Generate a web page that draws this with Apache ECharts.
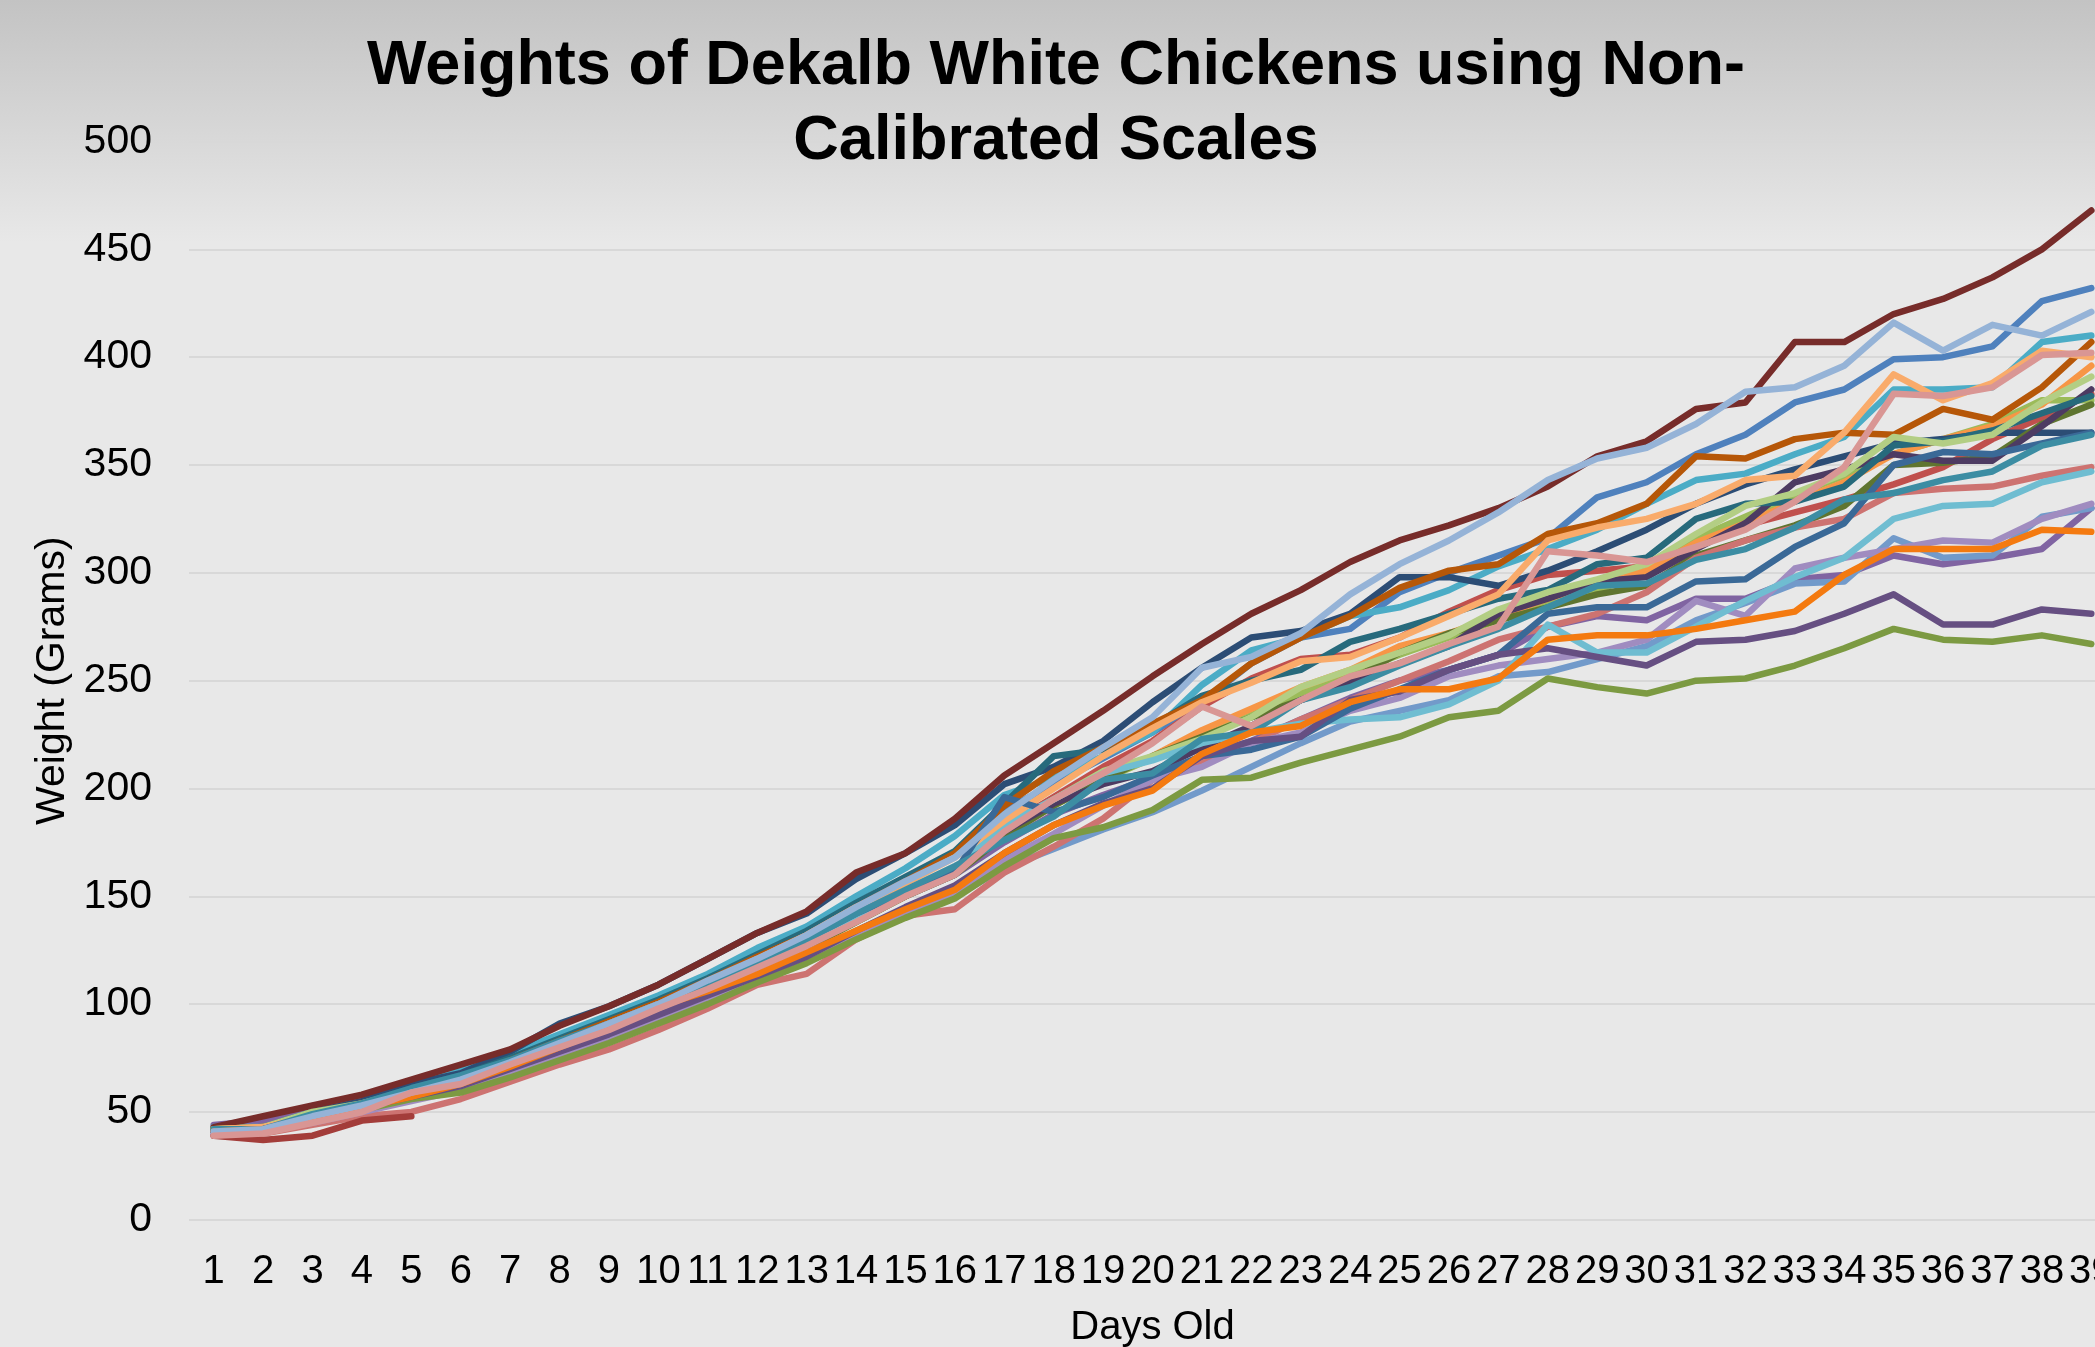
<!DOCTYPE html>
<html>
<head>
<meta charset="utf-8">
<title>Weights of Dekalb White Chickens</title>
<script src="https://cdn.jsdelivr.net/npm/echarts@6/dist/echarts.min.js"></script>
<style>
  * { margin: 0; padding: 0; }
  html, body { width: 2095px; height: 1347px; overflow: hidden; background: #e8e8e8; }
  #chart { width: 2095px; height: 1347px; }
</style>
</head>
<body>
<div id="chart"></div>
<script>
// days old (x categories)
var days = ['1','2','3','4','5','6','7','8','9','10','11','12','13','14','15','16','17','18','19','20',
            '21','22','23','24','25','26','27','28','29','30','31','32','33','34','35','36','37','38','39'];

// weights in grams, one array per chicken
var maroon       = [43,48,53,58,65,72,79,90,99,109,121,133,143,161,170,186,206,221,236,252,267,281,292,305,315,322,330,340,354,361,376,379,407,407,420,427,437,450,468];
var blue         = [42,43,49,54,61,67,75,84,92,101,111,122,132,146,157,170,190,202,214,226,240,258,270,274,291,300,308,316,335,342,355,364,379,385,399,400,405,426,432];
var lightBlue    = [41,42,48,53,59,65,73,82,91,100,111,121,132,145,157,168,188,204,219,233,256,261,272,290,304,315,328,343,353,358,369,384,386,396,416,403,415,410,421];
var aqua         = [43,43,50,55,62,70,77,86,95,104,114,126,136,150,163,178,197,205,215,226,248,264,270,280,284,292,303,311,320,332,343,346,355,363,385,385,386,407,410];
var darkOrange   = [42,43,49,54,60,66,74,83,92,101,111,122,132,145,157,170,192,208,219,230,241,258,270,280,293,301,304,318,323,332,354,353,362,365,364,376,371,386,407];
var pink         = [39,40,45,50,59,63,72,80,88,98,107,117,127,138,150,160,180,195,207,221,238,229,241,252,258,267,275,310,308,305,312,320,333,349,383,382,386,401,402];
var lightOrange  = [42,43,48,53,59,65,73,82,91,100,110,121,132,145,156,168,185,200,215,228,240,249,259,261,270,280,290,315,321,325,332,343,345,365,392,380,388,403,400];
var orange       = [41,42,47,52,58,63,72,80,88,97,107,117,127,139,150,162,180,193,205,215,227,237,247,255,266,272,280,288,295,301,314,323,333,342,355,362,368,378,396];
var lightGreen   = [42,43,50,54,60,65,72,80,89,98,108,118,128,140,152,163,182,195,208,215,223,233,247,255,263,271,283,291,297,304,318,331,337,346,363,360,364,379,391];
var green        = [41,42,48,53,59,64,71,79,87,96,106,116,126,138,150,161,178,192,204,214,224,234,244,253,262,270,278,285,292,300,316,326,336,345,355,362,369,380,380];
var darkPurple   = [41,42,47,52,58,64,71,80,88,97,107,117,127,139,151,162,180,193,202,208,219,229,241,249,258,266,281,288,296,298,311,323,342,348,355,352,352,368,385];
var darkTeal     = [42,43,49,54,61,67,75,84,93,102,112,123,134,147,159,171,193,215,218,229,243,250,255,268,274,281,288,292,304,307,325,332,333,340,359,361,366,374,382];
var olive        = [41,42,47,52,58,63,71,79,87,96,106,116,126,138,150,160,178,192,204,215,224,233,241,250,263,272,278,284,290,294,308,315,322,331,350,351,354,369,378];
var navy         = [42,43,50,55,63,68,78,91,99,109,121,133,142,158,170,183,202,210,222,240,256,270,273,281,298,298,294,301,310,320,332,341,348,354,360,362,365,365,365];
var steelBlue    = [41,42,48,53,59,65,73,82,90,99,109,120,130,142,152,161,196,189,196,206,215,218,224,237,246,255,262,281,284,284,296,297,312,323,350,356,355,360,365];
var teal         = [42,42,49,54,61,67,74,83,91,100,110,120,130,142,153,164,176,187,204,207,223,226,241,247,257,266,274,284,294,295,306,311,321,334,337,343,347,359,364];
var red          = [41,42,48,53,59,64,72,80,89,98,108,118,128,140,152,163,182,196,210,222,238,251,260,262,270,282,292,299,301,303,315,322,328,334,341,349,362,372,383];
var salmon       = [39,40,44,48,50,56,64,72,79,88,98,109,114,130,141,144,161,173,186,204,213,221,232,241,250,259,269,275,281,291,307,315,321,325,337,339,340,345,349];
var lightAqua    = [41,42,48,53,59,65,72,81,89,98,108,118,128,140,151,162,183,195,207,213,221,226,230,232,233,239,250,276,263,263,275,287,298,307,325,331,332,342,347];
var lavender     = [40,41,45,50,55,60,67,75,83,92,101,111,120,132,143,151,167,179,192,204,210,221,226,236,242,252,257,260,263,269,287,280,302,307,311,315,314,325,332];
var lightSteel   = [40,41,45,50,56,61,68,76,84,92,101,111,120,131,141,150,163,172,181,189,199,210,221,231,236,241,252,254,260,266,278,286,295,296,316,307,308,326,330];
var purple       = [44,46,52,55,62,67,74,82,90,99,108,118,128,140,150,160,175,188,197,205,215,222,232,242,250,255,262,275,280,278,288,288,297,299,308,304,307,311,330];
var brightOrange = [41,42,47,52,57,63,71,80,89,99,106,114,124,134,144,153,170,183,192,199,216,226,229,240,246,246,251,269,271,271,274,278,282,299,311,311,311,320,319];
var darkPurple2  = [41,42,47,52,57,62,70,78,86,95,104,113,122,134,145,155,170,183,193,200,215,222,224,241,245,255,262,265,261,257,268,269,273,281,290,276,276,283,281];
var green2       = [42,42,47,51,56,59,66,74,82,91,100,110,119,130,140,149,164,177,182,190,204,205,212,218,224,233,236,251,247,244,250,251,257,265,274,269,268,271,267];
var deadRed      = [39,37,39,46,48];

var chickens = [
  ['#4F81BD', blue], ['#C0504D', red], ['#9BBB59', green], ['#8064A2', purple],
  ['#4BACC6', aqua], ['#F79646', orange], ['#2C4D75', navy], ['#772C2A', maroon],
  ['#5F7530', olive], ['#4D3B62', darkPurple], ['#276A7C', darkTeal], ['#B65708', darkOrange],
  ['#729ACA', lightSteel], ['#CD7371', salmon], ['#B3CE84', lightGreen], ['#A08CC0', lavender],
  ['#6FBDD1', lightAqua], ['#F9AB6B', lightOrange], ['#3A6997', steelBlue], ['#A33D3A', deadRed],
  ['#7C9A42', green2], ['#664F82', darkPurple2], ['#3C8DA3', teal], ['#F47A10', brightOrange],
  ['#95B3D7', lightBlue], ['#D99694', pink]
];

var font = "'Liberation Sans', Arial, sans-serif";

var series = chickens.map(function (c, i) {
  return {
    name: 'Chicken ' + (i + 1),
    type: 'line',
    data: c[1],
    symbol: 'none',
    showSymbol: false,
    connectNulls: false,
    itemStyle: { color: c[0] },
    lineStyle: { color: c[0], width: 6.5, cap: 'round', join: 'round' },
    emphasis: { disabled: true }
  };
});

var chart = echarts.init(document.getElementById('chart'));
chart.setOption({
  animation: false,
  backgroundColor: {
    type: 'linear', x: 0, y: 0, x2: 0, y2: 1,
    colorStops: [
      { offset: 0, color: '#c3c3c3' },
      { offset: 0.18, color: '#e8e8e8' },
      { offset: 1, color: '#e8e8e8' }
    ]
  },
  title: {
    text: 'Weights of Dekalb White Chickens using Non-\nCalibrated Scales',
    left: 1056,
    top: 29,
    padding: 0,
    textAlign: 'center',
    textStyle: { fontSize: 63, fontWeight: 'bold', color: '#000', lineHeight: 75, fontFamily: font }
  },
  grid: { left: 189, right: -21, top: 141.5, bottom: 127.2, containLabel: false, outerBoundsMode: 'none' },
  xAxis: {
    type: 'category',
    data: days,
    boundaryGap: true,
    axisLine: { show: false },
    axisTick: { show: false },
    axisLabel: { interval: 0, fontSize: 40, color: '#000', margin: 32, fontFamily: font },
    name: 'Days Old',
    nameLocation: 'middle',
    nameGap: 88,
    nameTextStyle: { fontSize: 40, color: '#000', fontFamily: font }
  },
  yAxis: {
    type: 'value',
    min: 0, max: 500, interval: 50,
    axisLine: { show: false },
    axisTick: { show: false },
    axisLabel: { fontSize: 41, color: '#000', margin: 37, fontFamily: font },
    splitLine: { lineStyle: { color: '#d8d8d8', width: 2 } },
    name: 'Weight (Grams)',
    nameLocation: 'middle',
    nameRotate: 90,
    nameGap: 112,
    nameTextStyle: { fontSize: 41, color: '#000', fontFamily: font }
  },
  series: series
});
</script>
</body>
</html>
